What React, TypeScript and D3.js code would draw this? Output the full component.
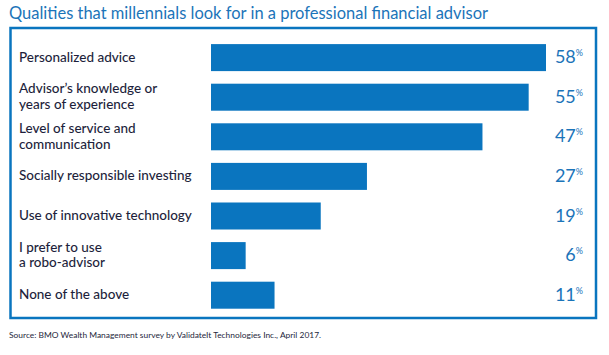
import React from "react";
import * as d3 from "d3";

const categories: string[] = [
  "Personalized advice",
  "Advisor’s knowledge or\nyears of experience",
  "Level of service and\ncommunication",
  "Socially responsible investing",
  "Use of innovative technology",
  "I prefer to use\na robo-advisor",
  "None of the above",
];
const values: number[] = [58, 55, 47, 27, 19, 6, 11];

const title = "Qualities that millennials look for in a professional financial advisor";
const source = "Source: BMO Wealth Management survey by ValidateIt Technologies Inc., April 2017.";

const W = 609;
const H = 355;
const BLUE = "#0a75bf";
const TEXT_BLUE = "#1b74b9";
const DARK = "#1e1f3c";
const FONT = "Lato, 'Open Sans', sans-serif";

export default function App() {
  const x = d3.scaleLinear().domain([0, 58]).range([211, 546]);
  const y = d3
    .scaleBand<string>()
    .domain(categories)
    .range([37.8, 37.8 + 7 * 39.6])
    .paddingInner(0.318)
    .paddingOuter(0.159);
  const bw = y.bandwidth();

  return (
    <svg
      width={W}
      height={H}
      style={{ position: "absolute", left: 0, top: 0, background: "#fff" }}
      fontFamily={FONT}
    >
      <text x={9} y={19} fontSize={18} fill={TEXT_BLUE} textLength={479} lengthAdjust="spacingAndGlyphs">
        {title}
      </text>
      <rect x={10.5} y={28} width={585.5} height={290} fill="none" stroke={BLUE} strokeWidth={2.5} />
      {categories.map((c, i) => {
        const y0 = y(c)!;
        const cy = y0 + bw / 2;
        const lines = c.split("\n");
        const lh = 15.5;
        const firstBase = cy + 4 - ((lines.length - 1) * lh) / 2;
        return (
          <g key={c}>
            <rect x={x(0)} y={y0} width={x(values[i]) - x(0)} height={bw} fill={BLUE} />
            <text fontSize={13.5} fill={DARK} fontWeight={500}>
              {lines.map((l, j) => (
                <tspan key={j} x={19} y={firstBase + j * lh}>
                  {l}
                </tspan>
              ))}
            </text>
            <text x={583} y={cy + 5.5} textAnchor="end" fill={TEXT_BLUE}>
              <tspan fontSize={18}>{values[i]}</tspan>
              <tspan fontSize={9} dy={-7}>%</tspan>
            </text>
          </g>
        );
      })}
      <text x={9} y={338} fontSize={8.4} fill={DARK} textLength={312} lengthAdjust="spacingAndGlyphs">
        {source}
      </text>
    </svg>
  );
}
